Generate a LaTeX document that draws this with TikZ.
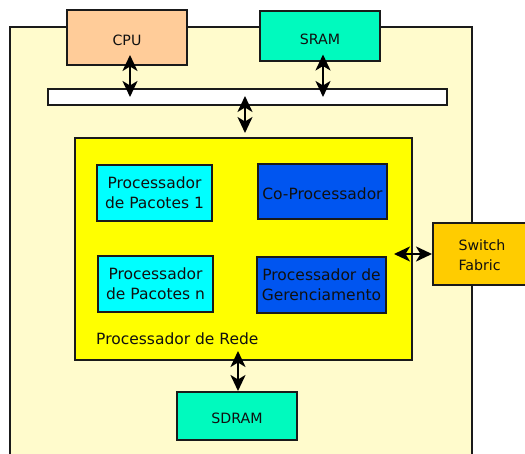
\documentclass[tikz,border=0pt]{standalone}
\usepackage{fontspec}
\setmainfont{DejaVu Sans}
\usetikzlibrary{arrows.meta}

\definecolor{board}{HTML}{FFFBCC}
\definecolor{cpuc}{HTML}{FFCC99}
\definecolor{memc}{HTML}{00FABE}
\definecolor{netc}{HTML}{FFFF00}
\definecolor{pktc}{HTML}{00FFFF}
\definecolor{coc}{HTML}{0055F0}
\definecolor{swc}{HTML}{FFCC00}
\definecolor{edge}{HTML}{1A1A1A}
\definecolor{ink}{HTML}{101010}

\tikzset{
  blk/.style={draw=edge, line width=2pt, inner sep=0pt, align=center, text=ink},
  outer/.style={blk, font=\fontsize{14.2}{20}\selectfont},
  oneline/.style={text height=15.5pt, text depth=0pt},
  inner/.style={blk, font=\fontsize{15.5}{20}\selectfont},
  bighead/.tip={Stealth[length=16pt,width=15pt,inset=4.5pt]},
  arr/.style={line width=2.2pt, bighead-bighead}
}

\begin{document}
\begin{tikzpicture}[x=1pt,y=-1pt]
  \useasboundingbox (0,0) rectangle (525,454);
  \begin{scope}
    \clip (0,0) rectangle (525,454);
    % board outline
    \node[blk, fill=board, minimum width=462pt, minimum height=440pt] (board) at (241,247) {};
    % devices on the board edge
    \node[outer, oneline, fill=cpuc, minimum width=120pt, minimum height=55pt] (cpu) at (127,37.5) {CPU};
    \node[outer, oneline, fill=memc, minimum width=120pt, minimum height=50pt] (sram) at (320,36.5) {SRAM};
    % shared bus
    \node[blk, fill=white, minimum width=399pt, minimum height=16pt] (bus) at (247.5,97) {};
    % network processor
    \node[blk, fill=netc, minimum width=337pt, minimum height=222pt] (rede) at (243.5,249) {};
    \node[inner, fill=pktc, minimum width=115pt, minimum height=56pt] (pk1) at (154.5,193) {Processador\\de Pacotes 1};
    \node[inner, fill=coc, text height=15.5pt, text depth=0pt, minimum width=129pt, minimum height=55pt] (cop) at (322.5,191.5) {Co-Processador};
    \node[inner, fill=pktc, minimum width=115pt, minimum height=56pt] (pkn) at (155.5,284) {Processador\\de Pacotes n};
    \node[inner, fill=coc, minimum width=129pt, minimum height=56pt] (ger) at (321.5,285) {Processador de\\Gerenciamento};
    \node[font=\fontsize{15.5}{20}\selectfont, text=ink, anchor=west, inner sep=0pt] (redelbl) at (96,339) {Processador de Rede};
    % switch fabric and external memory
    \node[outer, fill=swc, minimum width=96pt, minimum height=62pt] (sw) at (481,254) {};
    \node[font=\fontsize{14.2}{20}\selectfont, text=ink, align=left, inner sep=0pt] (swlbl) at (482,255) {Switch\\Fabric};
    \node[outer, oneline, fill=memc, minimum width=120pt, minimum height=48pt] (sdram) at (237,416) {SDRAM};
  \end{scope}

  % connections
  \draw[arr] ([xshift=3pt,yshift=11pt]cpu.south) -- ([xshift=3pt]cpu.south |- bus.center);
  \draw[arr] ([xshift=3pt,yshift=8pt]sram.south) -- ([xshift=3pt]sram.south |- bus.center);
  \draw[arr] ([xshift=-2.5pt,yshift=1pt]bus.center) -- ([xshift=-2.5pt,yshift=4pt]bus.center |- rede.north);
  \draw[arr] ([xshift=-19pt]rede.east |- sw.west) -- (sw.west);
  \draw[arr] ([xshift=-5.5pt,yshift=10pt]rede.south) -- ([xshift=1pt]sdram.north);
\end{tikzpicture}
\end{document}
